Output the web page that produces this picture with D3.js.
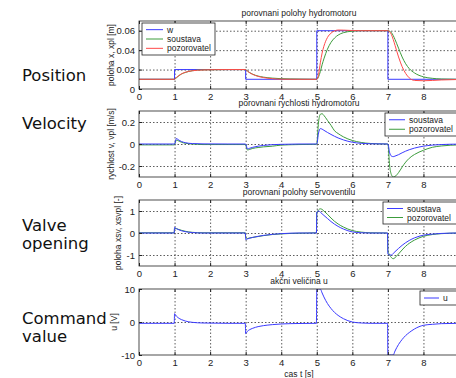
<!DOCTYPE html>
<html>
<head>
<meta charset="utf-8">
<script src="https://cdn.jsdelivr.net/npm/d3@7"></script>
<style>
  body { margin: 0; background: #fff; }
  svg { display: block; }
</style>
</head>
<body>
<svg id="chart"></svg>
<script>
var W = 456, H = 378;

// shared time grid [s]
var t = [0, 0.99, 1.0, 1.05, 1.1, 1.2, 1.3, 1.5, 1.8, 2.5,
         2.99, 3.0, 3.05, 3.1, 3.2, 3.35, 3.5, 3.75, 4.0, 4.5,
         4.99, 5.0, 5.05, 5.1, 5.15, 5.2, 5.3, 5.4, 5.5, 5.6,
         5.75, 6.0, 6.25, 6.5, 6.99, 7.0, 7.05, 7.1, 7.15, 7.2,
         7.3, 7.4, 7.5, 7.6, 7.75, 8.0, 8.25, 8.5, 9.0];

// reference w (step)
var wTime = [0, 1, 3, 5, 7, 9];
var wVal = [0.01, 0.02, 0.01, 0.06, 0.01, 0.01];

// position x (soustava) / xpl (pozorovatel) [m]
var posSoustava = [0.01, 0.01, 0.01, 0.0115, 0.013, 0.0155, 0.017, 0.0188, 0.0197, 0.02,
                   0.02, 0.02, 0.0185, 0.0172, 0.0152, 0.0133, 0.0122, 0.0112, 0.0106, 0.0102,
                   0.01, 0.01, 0.0125, 0.018, 0.025, 0.031, 0.041, 0.048, 0.0525, 0.0555,
                   0.058, 0.0595, 0.06, 0.06, 0.06, 0.06, 0.0595, 0.058, 0.055, 0.051,
                   0.042, 0.033, 0.026, 0.021, 0.0165, 0.0125, 0.011, 0.0103, 0.01];
var posPozorovatel = [0.01, 0.01, 0.01, 0.0118, 0.0133, 0.0157, 0.0172, 0.0188, 0.0196, 0.02,
                      0.02, 0.02, 0.0183, 0.017, 0.015, 0.013, 0.0118, 0.0106, 0.0101, 0.01,
                      0.01, 0.01, 0.015, 0.027, 0.037, 0.044, 0.053, 0.0575, 0.0598, 0.0607,
                      0.0606, 0.0602, 0.06, 0.06, 0.06, 0.06, 0.059, 0.056, 0.051, 0.045,
                      0.033, 0.023, 0.016, 0.0115, 0.0088, 0.0085, 0.0088, 0.0093, 0.0098];

// velocity v / vpl [m/s]
var velSoustava = [0, 0, 0, 0.05, 0.04, 0.022, 0.012, 0.004, 0.001, 0,
                   0, 0, -0.045, -0.04, -0.03, -0.02, -0.013, -0.006, -0.003, 0,
                   0, 0, 0.1, 0.14, 0.135, 0.125, 0.105, 0.087, 0.07, 0.055,
                   0.037, 0.016, 0.006, 0.002, 0, 0, -0.08, -0.11, -0.115, -0.11,
                   -0.097, -0.08, -0.065, -0.052, -0.037, -0.02, -0.01, -0.005, -0.001];
var velPozorovatel = [-0.008, -0.008, -0.005, 0.035, 0.03, 0.015, 0.007, 0, -0.005, -0.005,
                      -0.005, -0.01, -0.055, -0.05, -0.04, -0.032, -0.026, -0.02, -0.01, -0.005,
                      -0.003, 0, 0.2, 0.27, 0.275, 0.26, 0.215, 0.17, 0.12, 0.095,
                      0.065, 0.032, 0.014, 0.005, 0, 0, -0.2, -0.28, -0.3, -0.295,
                      -0.26, -0.21, -0.165, -0.13, -0.095, -0.057, -0.03, -0.018, -0.008];

// valve position xsv / xsvpl [-]
var valveSoustava = [0, 0, 0.25, 0.2, 0.16, 0.1, 0.06, 0.02, 0, 0,
                     0, -0.3, -0.27, -0.24, -0.2, -0.15, -0.11, -0.06, -0.03, 0,
                     0, 0.95, 1.0, 0.95, 0.87, 0.8, 0.66, 0.52, 0.4, 0.3,
                     0.18, 0.05, 0.01, 0, 0, -0.95, -1.0, -1.0, -0.93, -0.85,
                     -0.7, -0.56, -0.44, -0.34, -0.22, -0.1, -0.05, -0.02, 0];
var valvePozorovatel = [0.01, 0.01, 0.2, 0.2, 0.17, 0.12, 0.08, 0.03, 0.01, 0.01,
                        0.01, -0.2, -0.25, -0.23, -0.2, -0.16, -0.12, -0.07, -0.04, -0.01,
                        0.01, 0.9, 1.05, 1.1, 1.07, 1.0, 0.85, 0.68, 0.53, 0.41,
                        0.27, 0.11, 0.04, 0.01, 0, -0.8, -1.0, -1.12, -1.17, -1.12,
                        -0.95, -0.77, -0.6, -0.47, -0.32, -0.15, -0.07, -0.03, 0];

// command value u [V]
var uVal = [-0.4, -0.4, 2.5, 1.8, 1.3, 0.7, 0.3, -0.1, -0.3, -0.4,
            -0.4, -3.5, -2.8, -2.4, -1.9, -1.4, -1.1, -0.8, -0.6, -0.45,
            -0.4, 10, 10, 10, 8.8, 7.6, 5.6, 4.1, 2.9, 2.0,
            1.0, 0, -0.3, -0.4, -0.4, -10, -10, -10, -10, -8.8,
            -6.8, -5.3, -4.1, -3.2, -2.1, -1.0, -0.7, -0.5, -0.4];

var xTicks = [0, 1, 2, 3, 4, 5, 6, 7, 8];

var blue = '#3a3aff', green = '#3c9c3c', red = '#ff4a4a';

function zipT(vals) {
  return t.map(function (d, i) { return [d, vals[i]]; });
}

var panels = [
  {
    top: 21, bottom: 89, domain: [0, 0.07], ticks: [0, 0.02, 0.04, 0.06],
    title: 'porovnani polohy hydromotoru', ylabel: 'poloha x, xpl [m]', ylabelX: 114,
    series: [
      {name: 'w', color: blue, pts: wTime.map(function (d, i) { return [d, wVal[i]]; }), step: true},
      {name: 'soustava', color: green, pts: zipT(posSoustava)},
      {name: 'pozorovatel', color: red, pts: zipT(posPozorovatel)}
    ],
    legend: {x: 142, y: 23, w: 73, h: 32, rows: 3}
  },
  {
    top: 111, bottom: 177, domain: [-0.3, 0.3], ticks: [-0.2, 0, 0.2],
    title: 'porovnani rychlosti hydromotoru', ylabel: 'rychlost v, vpl [m/s]', ylabelX: 114,
    series: [
      {name: 'pozorovatel', color: green, pts: zipT(velPozorovatel)},
      {name: 'soustava', color: blue, pts: zipT(velSoustava)}
    ],
    legendOrder: ['soustava', 'pozorovatel'],
    legend: {x: 385, y: 113, w: 90, h: 23, rows: 2}
  },
  {
    top: 200, bottom: 266, domain: [-1.5, 1.5], ticks: [-1, 0, 1],
    title: 'porovnani polohy servoventilu', ylabel: 'poloha xsv, xsvpl [-]', ylabelX: 121,
    series: [
      {name: 'pozorovatel', color: green, pts: zipT(valvePozorovatel)},
      {name: 'soustava', color: blue, pts: zipT(valveSoustava)}
    ],
    legendOrder: ['soustava', 'pozorovatel'],
    legend: {x: 383, y: 202, w: 90, h: 22, rows: 2}
  },
  {
    top: 289, bottom: 355, domain: [-10, 10], ticks: [-10, 0, 10],
    title: 'akčni veličina u', ylabel: 'u [V]', ylabelX: 117,
    series: [
      {name: 'u', color: blue, pts: zipT(uVal)}
    ],
    legend: {x: 420, y: 291, w: 60, h: 14, rows: 1}
  }
];

var x = d3.scaleLinear().domain([0, 9]).range([139, 459]);

var svg = d3.select('#chart').attr('width', W).attr('height', H)
  .style('font-family', '"Liberation Sans", Arial, sans-serif');

svg.append('rect').attr('width', W).attr('height', H).attr('fill', '#fff');

panels.forEach(function (p, pi) {
  var y = d3.scaleLinear().domain(p.domain).range([p.bottom, p.top]);
  var g = svg.append('g');
  var pw = x.range()[1] - x.range()[0];

  // grid
  var gridX = g.append('g').attr('transform', 'translate(0,' + p.bottom + ')')
    .call(d3.axisBottom(x).tickValues(xTicks.slice(1)).tickSize(-(p.bottom - p.top)).tickFormat(''));
  var gridY = g.append('g').attr('transform', 'translate(' + x(0) + ',0)')
    .call(d3.axisLeft(y).tickValues(p.ticks.filter(function (v) {
      return v !== p.domain[0] && v !== p.domain[1];
    })).tickSize(-pw).tickFormat(''));
  [gridX, gridY].forEach(function (gg) {
    gg.select('.domain').remove();
    gg.selectAll('line').attr('stroke', '#333').attr('stroke-width', 0.8).attr('stroke-dasharray', '1.5,2');
  });

  // lines
  var clipId = 'clip' + pi;
  svg.append('clipPath').attr('id', clipId).append('rect')
    .attr('x', x(0)).attr('y', p.top).attr('width', pw).attr('height', p.bottom - p.top);

  p.series.forEach(function (s) {
    var line = d3.line()
      .x(function (d) { return x(d[0]); })
      .y(function (d) { return y(d[1]); })
      .curve(s.step ? d3.curveStepAfter : d3.curveMonotoneX);
    g.append('path').datum(s.pts)
      .attr('clip-path', 'url(#' + clipId + ')')
      .attr('fill', 'none').attr('stroke', s.color).attr('stroke-width', 1)
      .attr('d', line);
  });

  // box
  g.append('rect').attr('x', x(0)).attr('y', p.top).attr('width', pw).attr('height', p.bottom - p.top)
    .attr('fill', 'none').attr('stroke', '#222').attr('stroke-width', 0.8);

  // axes
  var ax = g.append('g').attr('transform', 'translate(0,' + p.bottom + ')')
    .call(d3.axisBottom(x).tickValues(xTicks).tickSizeInner(-3).tickSizeOuter(0).tickPadding(4)
      .tickFormat(function (d) { return String(d); }));
  var axTop = g.append('g').attr('transform', 'translate(0,' + p.top + ')')
    .call(d3.axisTop(x).tickValues(xTicks).tickSizeInner(-3).tickSizeOuter(0).tickFormat(''));
  var ay = g.append('g').attr('transform', 'translate(' + x(0) + ',0)')
    .call(d3.axisLeft(y).tickValues(p.ticks).tickSizeInner(-3).tickSizeOuter(0).tickPadding(4)
      .tickFormat(function (d) { return String(d); }));
  [ax, axTop, ay].forEach(function (a) {
    a.select('.domain').remove();
    a.selectAll('line').attr('stroke', '#222');
    a.selectAll('text').attr('fill', '#222').style('font-size', '9.5px')
      .style('font-family', '"Liberation Sans", Arial, sans-serif');
  });

  // title
  g.append('text').attr('x', 299).attr('y', p.top - 5).attr('text-anchor', 'middle')
    .attr('fill', '#222').style('font-size', '8.5px').text(p.title);

  // y label
  g.append('text')
    .attr('transform', 'translate(' + p.ylabelX + ',' + ((p.top + p.bottom) / 2) + ') rotate(-90)')
    .attr('text-anchor', 'middle').attr('fill', '#222').style('font-size', '8.5px').text(p.ylabel);

  // legend
  var L = p.legend;
  var lg = g.append('g');
  lg.append('rect').attr('x', L.x).attr('y', L.y).attr('width', L.w).attr('height', L.h)
    .attr('fill', '#fff').attr('stroke', '#222').attr('stroke-width', 0.8);
  var order = p.legendOrder || p.series.map(function (s) { return s.name; });
  var rowH = (L.h - 4) / L.rows;
  order.forEach(function (name, i) {
    var s = p.series.filter(function (d) { return d.name === name; })[0];
    var cy = L.y + 2 + rowH * (i + 0.5);
    var lx0 = L.x + 4, lx1 = L.x + (L.rows === 1 ? 19 : (pi === 0 ? 21 : 20));
    lg.append('line').attr('x1', lx0).attr('x2', lx1).attr('y1', cy).attr('y2', cy)
      .attr('stroke', s.color).attr('stroke-width', 1);
    lg.append('text').attr('x', lx1 + 4).attr('y', cy + 3)
      .attr('fill', '#222').style('font-size', '8.5px').text(s.name);
  });
});

// x axis label
svg.append('text').attr('x', 299).attr('y', 377).attr('text-anchor', 'middle')
  .attr('fill', '#222').style('font-size', '8.5px').text('cas t [s]');

// left row labels
var rowLabels = [
  {lines: ['Position'], y: 81},
  {lines: ['Velocity'], y: 129},
  {lines: ['Valve', 'opening'], y: 231},
  {lines: ['Command', 'value'], y: 324}
];
rowLabels.forEach(function (r) {
  var tx = svg.append('text').attr('x', 22).attr('y', r.y)
    .attr('fill', '#111').style('font-family', '"DejaVu Sans", sans-serif').style('font-size', '16.5px');
  r.lines.forEach(function (ln, i) {
    tx.append('tspan').attr('x', 22).attr('dy', i === 0 ? 0 : 18).text(ln);
  });
});
</script>
</body>
</html>
